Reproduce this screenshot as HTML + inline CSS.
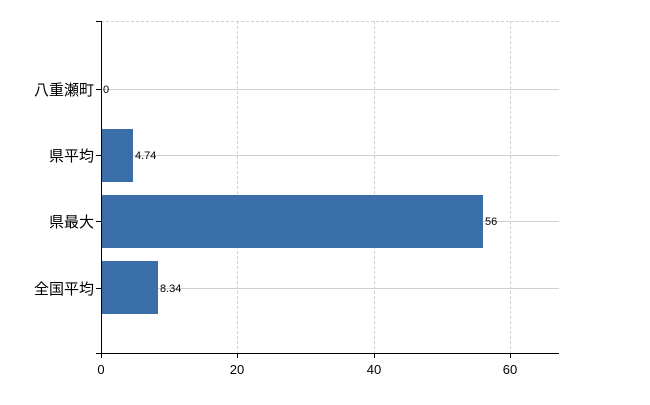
<!DOCTYPE html><html><head><meta charset="utf-8"><style>body{margin:0;background:#fff}</style></head><body>
<svg width="650" height="400" xmlns="http://www.w3.org/2000/svg" font-family="Liberation Sans, Noto Sans CJK JP, sans-serif">
<g stroke="#d0d0d0" stroke-width="1">
<line x1="101" y1="21.5" x2="559" y2="21.5" stroke-dasharray="3,2"/>
<line x1="237.5" y1="21" x2="237.5" y2="353" stroke-dasharray="3,2"/>
<line x1="374.5" y1="21" x2="374.5" y2="353" stroke-dasharray="3,2"/>
<line x1="510.5" y1="21" x2="510.5" y2="353" stroke-dasharray="3,2"/>
<line x1="101" y1="89.5" x2="559" y2="89.5"/>
<line x1="101" y1="155.5" x2="559" y2="155.5"/>
<line x1="101" y1="221.5" x2="559" y2="221.5"/>
<line x1="101" y1="288.5" x2="559" y2="288.5"/>
</g>
<g fill="#3a6ea8">
<rect x="101" y="129" width="32" height="53"/>
<rect x="101" y="195" width="382" height="53"/>
<rect x="101" y="261" width="57" height="53"/>
</g>
<g stroke="#000" stroke-width="1">
<line x1="101.5" y1="21" x2="101.5" y2="353"/>
<line x1="101" y1="353.5" x2="559" y2="353.5"/>
<line x1="96" y1="21.5" x2="101" y2="21.5"/>
<line x1="96" y1="89.5" x2="101" y2="89.5"/>
<line x1="96" y1="155.5" x2="101" y2="155.5"/>
<line x1="96" y1="221.5" x2="101" y2="221.5"/>
<line x1="96" y1="288.5" x2="101" y2="288.5"/>
<line x1="96" y1="353.5" x2="101" y2="353.5"/>
<line x1="101.5" y1="353" x2="101.5" y2="358"/>
<line x1="237.5" y1="353" x2="237.5" y2="358"/>
<line x1="374.5" y1="353" x2="374.5" y2="358"/>
<line x1="510.5" y1="353" x2="510.5" y2="358"/>
</g>
<g font-size="15" text-anchor="end" fill="#000">
<text x="94" y="95">八重瀬町</text>
<text x="94" y="161">県平均</text>
<text x="94" y="227">県最大</text>
<text x="94" y="294">全国平均</text>
</g>
<g font-size="11" fill="#000">
<text x="103" y="93">0</text>
<text x="135" y="159">4.74</text>
<text x="485" y="225">56</text>
<text x="160" y="292">8.34</text>
</g>
<g font-size="13" text-anchor="middle" fill="#000">
<text x="101" y="374">0</text>
<text x="237" y="374">20</text>
<text x="374" y="374">40</text>
<text x="510" y="374">60</text>
</g>
</svg>
</body></html>
